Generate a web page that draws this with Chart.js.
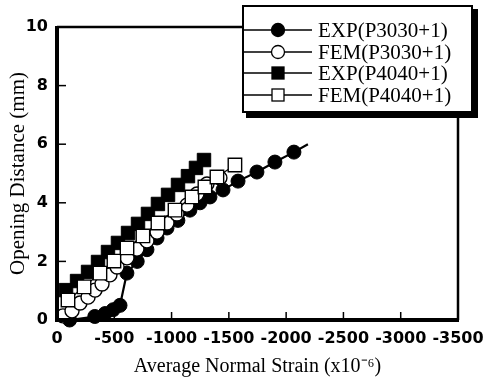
<!DOCTYPE html>
<html><head><meta charset="utf-8">
<script src="https://cdn.jsdelivr.net/npm/chart.js@4"></script>
<style>html,body{margin:0;padding:0;background:#fff}#wrap{width:484px;height:387px}</style>
</head><body><div id="wrap"><canvas id="c" width="484" height="387"></canvas></div>
<script>
const xTicks = [0,-500,-1000,-1500,-2000,-2500,-3000,-3500];
const yTicks = [0,2,4,6,8,10];
const seriesNames = ["EXP(P3030+1)","FEM(P3030+1)","EXP(P4040+1)","FEM(P4040+1)"];

const exp3030X = [-110,-330,-420,-490,-550,-610,-700,-785,-873,-960,-1055,-1160,-1248,-1335,-1449,-1580,-1745,-1902,-2068,-2190];
const exp3030Y = [0.0,0.12,0.22,0.35,0.5,1.6,2.0,2.4,2.8,3.14,3.4,3.75,4.0,4.2,4.44,4.74,5.05,5.39,5.73,6.0];

const fem3030X = [-52,-131,-201,-271,-332,-393,-462,-524,-611,-698,-785,-873,-960,-1047,-1134,-1222,-1309,-1422];
const fem3030Y = [0.14,0.31,0.58,0.78,1.02,1.23,1.54,1.81,2.12,2.42,2.70,3.00,3.31,3.62,3.92,4.30,4.64,4.85];

const exp4040X = [-79,-175,-271,-358,-445,-532,-620,-707,-794,-881,-969,-1056,-1143,-1213,-1283];
const exp4040Y = [1.02,1.33,1.64,1.98,2.32,2.63,2.97,3.28,3.62,3.96,4.27,4.61,4.91,5.19,5.46];

const fem4040X = [-96,-236,-375,-497,-611,-750,-881,-1030,-1178,-1291,-1396,-1553];
const fem4040Y = [0.68,1.13,1.60,2.01,2.46,2.87,3.31,3.75,4.20,4.54,4.88,5.29];

const pts = (xs, ys) => xs.map((x,i)=>({x:x,y:ys[i]}));
const exp3030Radii = exp3030X.map((_,i)=> i===exp3030X.length-1 ? 0 : 7);

const datasets = [
  {label:seriesNames[0], data:pts(exp3030X,exp3030Y), borderColor:'#000', backgroundColor:'#000', borderWidth:2.2,
   pointStyle:'circle', pointRadius:exp3030Radii, pointBackgroundColor:'#000', pointBorderColor:'#000', pointBorderWidth:1, order:4},
  {label:seriesNames[1], data:pts(fem3030X,fem3030Y), borderColor:'#000', backgroundColor:'#fff', borderWidth:1.3,
   pointStyle:'circle', pointRadius:7, pointBackgroundColor:'#fff', pointBorderColor:'#000', pointBorderWidth:1.4, order:2},
  {label:seriesNames[2], data:pts(exp4040X,exp4040Y), borderColor:'#000', backgroundColor:'#000', borderWidth:2.2,
   pointStyle:'rect', pointRadius:9.5, pointBackgroundColor:'#000', pointBorderColor:'#000', pointBorderWidth:1, order:3},
  {label:seriesNames[3], data:pts(fem4040X,fem4040Y), borderColor:'#000', backgroundColor:'#fff', borderWidth:1.3,
   pointStyle:'rect', pointRadius:9.5, pointBackgroundColor:'#fff', pointBorderColor:'#000', pointBorderWidth:1.4, order:1}
];

const framePlugin = {
  id:'frame',
  afterDatasetsDraw(chart){
    const {ctx, chartArea:a, scales:{x,y}} = chart;
    ctx.save();
    ctx.strokeStyle='#000';
    ctx.lineWidth=1.5;
    xTicks.forEach(v=>{ if(v===0||v===-3500) return; const px=x.getPixelForValue(v); ctx.beginPath(); ctx.moveTo(px,a.bottom); ctx.lineTo(px,a.bottom-8); ctx.stroke();});
    yTicks.forEach(v=>{ if(v===0||v===10) return; const py=y.getPixelForValue(v); ctx.beginPath(); ctx.moveTo(a.left,py); ctx.lineTo(a.left+9,py); ctx.stroke();});
    ctx.lineWidth=2.5; ctx.beginPath(); ctx.moveTo(a.left,a.top); ctx.lineTo(a.right,a.top); ctx.lineTo(a.right,a.bottom); ctx.stroke();
    ctx.lineWidth=4; ctx.beginPath(); ctx.moveTo(a.left,a.top-1); ctx.lineTo(a.left,a.bottom); ctx.lineTo(a.right+1,a.bottom); ctx.stroke();
    // legend
    const L=243, T=6, R=472, B=112;
    ctx.fillStyle='#fff'; ctx.fillRect(L,T,R-L,B-T);
    ctx.fillStyle='#000'; ctx.fillRect(R,T+3,6,B-T+3); ctx.fillRect(L+3,B,R-L+3,6);
    ctx.lineWidth=2; ctx.strokeRect(L,T,R-L,B-T);
    const rows=[30,52,73,95];
    chart.data.datasets.forEach((ds,i)=>{
      const yy=rows[i];
      ctx.lineWidth=1.5; ctx.strokeStyle='#000';
      ctx.beginPath(); ctx.moveTo(L,yy); ctx.lineTo(312,yy); ctx.stroke();
      const mx=278;
      ctx.fillStyle = ds.pointBackgroundColor; ctx.lineWidth=1.3;
      if(ds.pointStyle==='circle'){ ctx.beginPath(); ctx.arc(mx,yy,6.5,0,Math.PI*2); ctx.fill(); ctx.stroke(); }
      else { ctx.fillRect(mx-6,yy-6,12,12); ctx.strokeRect(mx-6,yy-6,12,12); }
      ctx.fillStyle='#000'; ctx.font='21px "Liberation Serif", "Times New Roman", serif';
      ctx.textBaseline='middle'; ctx.textAlign='left';
      ctx.fillText(ds.label, 318, yy+1);
    });
    ctx.restore();
  }
};

const tickFont = {family:'"DejaVu Sans", Arial, sans-serif', size:16, weight:'bold'};
const titleFamily = '"Liberation Serif", "Times New Roman", serif';

new Chart(document.getElementById('c'), {
  type:'line',
  data:{datasets:datasets},
  options:{
    responsive:false, animation:false, maintainAspectRatio:false,
    layout:{padding:{top:27,right:26,left:6,bottom:8}},
    plugins:{legend:{display:false}, tooltip:{enabled:false}},
    elements:{line:{tension:0}},
    datasets:{line:{clip:false}},
    scales:{
      x:{type:'linear', min:-3500, max:0, reverse:true,
         afterBuildTicks(s){ s.ticks = xTicks.map(v=>({value:v})); },
         afterFit(s){ s.height=59; s.paddingLeft=0; s.paddingRight=0; },
         grid:{display:false, drawTicks:false},
         border:{display:false},
         ticks:{color:'#000', padding:9, font:tickFont, callback:v=>String(v), maxRotation:0, autoSkip:false},
         title:{display:true, text:'Average Normal Strain (x10\u207B\u2076)', color:'#000', padding:{top:2,bottom:0}, font:{family:titleFamily, size:20}}
      },
      y:{type:'linear', min:0, max:10,
         afterBuildTicks(s){ s.ticks = yTicks.map(v=>({value:v})); },
         afterFit(s){ s.width=51; s.paddingTop=0; s.paddingBottom=0; },
         grid:{display:false, drawTicks:false},
         border:{display:false},
         ticks:{color:'#000', padding:9, font:tickFont},
         title:{display:true, text:'Opening Distance (mm)', color:'#000', padding:{bottom:0,top:0}, font:{family:titleFamily, size:21}}
      }
    }
  },
  plugins:[framePlugin]
});
</script></body></html>
